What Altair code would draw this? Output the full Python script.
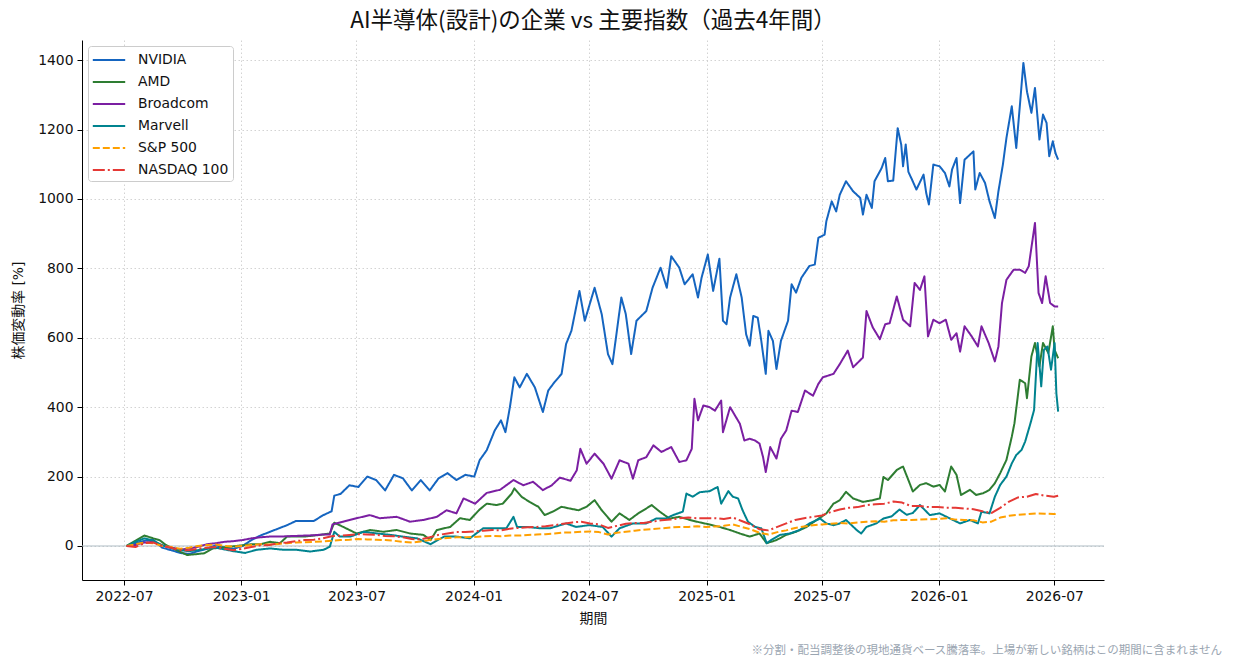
import altair as alt
import numpy as np
import pandas as pd

FONT = "DejaVu Sans, Noto Sans CJK JP"
CJK = "Noto Sans CJK JP"

series_names = ["NVIDIA", "AMD", "Broadcom", "Marvell", "S&P 500", "NASDAQ 100"]
series_colors = ["#1565C0", "#2E7D32", "#7B1FA2", "#00838F", "#FFA000", "#E53935"]
series_dashes = [[1, 0], [1, 0], [1, 0], [1, 0], [7, 3], [12, 3, 2, 3]]

# time positions are in fortnights (14-day steps) after the first trading day
origin_date = "2022-07-05"

nvidia_t = [0, 1, 2, 3, 4, 5, 6, 7, 8, 9,
            10, 11, 12, 13, 14, 15, 16, 17, 18, 19,
            20, 21, 22, 23, 23.3, 24, 25, 26, 27, 28,
            29, 30, 31, 32, 33, 34, 35, 36, 37, 38,
            39, 39.6, 40.4, 41.3, 42, 42.5, 43, 43.5, 44.1, 44.9,
            45.8, 46.7, 47.3, 48, 48.8, 49.3, 49.9, 50.8, 51.4, 52.5,
            53.3, 54, 54.5, 55.5, 56, 56.6, 57.2, 58.3, 59, 59.9,
            60.6, 61.1, 62, 62.6, 63.5, 64.1, 64.5, 65.2, 65.8, 66.5,
            66.9, 67.3, 67.7, 68.4, 69, 69.5, 69.9, 70.3, 70.8, 71.2,
            71.7, 72, 72.5, 72.9, 73.4, 74.2, 74.6, 75.1, 75.7, 76.6,
            77.2, 77.6, 78.3, 78.5, 79.1, 79.6, 80, 80.7, 81.5, 82.3,
            82.6, 83, 83.6, 83.9, 84.7, 85.1, 85.4, 86, 86.5, 86.9,
            87.1, 87.4, 87.7, 88.1, 88.6, 89.4, 89.7, 90, 90.5, 91.2,
            91.8, 92.3, 92.6, 93.1, 93.5, 94, 95, 95.2, 95.7, 96.3,
            96.8, 97.4, 97.8, 98.3, 98.7, 99.3, 99.8, 100.2, 100.6, 101,
            101.5, 101.9, 102.4, 102.8, 103.2, 103.5, 103.9, 104.2, 104.5]
nvidia_v = [0, 8, 15, 18, -5, -12, -20, -23, -15, -8,
            2, -5, -8, 0, 17, 30, 40, 50, 60, 72,
            72, 72, 88, 100, 145, 150, 175, 170, 200, 190,
            160, 205, 195, 160, 190, 160, 195, 210, 190, 205,
            200, 247, 276, 333, 362, 328, 400, 486, 457, 496,
            457, 386, 448, 472, 496, 582, 620, 735, 649, 744,
            668, 553, 524, 716, 668, 553, 649, 677, 744, 802,
            744, 835, 802, 754, 783, 716, 773, 840, 735, 828,
            649, 639, 716, 783, 716, 610, 577, 663, 658, 591,
            496, 620, 591, 510, 591, 649, 754, 730, 773, 807,
            811, 888, 897, 936, 993, 964, 1012, 1051, 1022, 1003,
            955, 1012, 974, 1051, 1089, 1118, 1051, 1053, 1204, 1156,
            1094, 1157, 1078, 1056, 1027, 1070, 1017, 984, 1099, 1094,
            1075, 1036, 1085, 1118, 988, 1113, 1137, 1027, 1075, 1046,
            993, 945, 1022, 1099, 1176, 1267, 1147, 1267, 1392, 1310,
            1248, 1320, 1171, 1243, 1219, 1123, 1166, 1132, 1113]

amd_t = [0, 1, 2, 3, 3.7, 4.4, 5.6, 6.8, 8, 8.7,
         9.7, 11.6, 13, 14, 15, 16.1, 17.2, 18, 19.9, 21.7,
         22.8, 23.3, 24.3, 25.8, 27.3, 28.8, 30.3, 31.8, 33.3, 34.1,
         34.8, 36.3, 37.4, 38.5, 39.6, 40.4, 41.5, 42.2, 43.2, 43.5,
         44.3, 45.2, 46.2, 46.9, 47.8, 48.8, 49.7, 50.7, 51.6, 52.5,
         53.3, 54.4, 55.3, 56.4, 57.4, 58.3, 58.9, 59.8, 60.9, 62,
         63.2, 64.3, 65.4, 66.5, 67.7, 68.8, 69.9, 71, 71.8, 72.9,
         74, 75.1, 76.3, 77.4, 78.5, 79.3, 80, 80.7, 81.5, 82.6,
         83.7, 84.5, 84.9, 85.4, 86.4, 87.1, 87.7, 88.2, 89, 89.7,
         90.5, 91.2, 91.8, 92.5, 93.1, 93.6, 94.6, 95.3, 96.1, 96.8,
         97.4, 98, 98.7, 99.3, 99.6, 100.2, 100.8, 101, 101.5, 101.9,
         102.4, 102.8, 103.4, 103.9, 104.1, 104.5]
amd_v = [0, 15, 30, 22, 17, 3, -12, -26, -23, -21,
         -7, -2, 2, 5, 5, 12, 8, 27, 27, 32,
         36, 67, 55, 36, 46, 41, 46, 36, 32, 17,
         46, 55, 80, 75, 105, 122, 118, 122, 151, 166,
         142, 127, 113, 89, 99, 113, 108, 103, 113, 132,
         103, 70, 94, 75, 94, 108, 118, 99, 79, 84,
         75, 68, 62, 55, 46, 36, 27, 36, 8, 17,
         32, 41, 55, 75, 94, 122, 132, 156, 137, 127,
         132, 137, 199, 190, 219, 229, 190, 157, 176, 181,
         171, 176, 157, 229, 205, 147, 162, 147, 152, 162,
         181, 210, 248, 315, 354, 479, 469, 426, 546, 585,
         517, 585, 556, 633, 565, 541]

broadcom_t = [0, 1, 2, 3, 4, 5, 6, 7, 8, 9,
              10, 11, 12, 13, 14, 15, 16, 17, 18, 19,
              20, 21, 22, 22.8, 23.1, 24.3, 25.8, 27.3, 28.4, 30.3,
              31.8, 33.3, 34.8, 35.9, 37, 37.8, 39.1, 40.4, 41.9, 43.4,
              44.5, 45.6, 46.7, 47.7, 48.6, 49.8, 50.5, 50.9, 51.6, 52.5,
              53.5, 54.4, 55.3, 56.3, 56.8, 57.4, 58.3, 59.1, 60, 61.1,
              62, 62.8, 63.4, 63.7, 64.1, 64.7, 65.4, 66, 66.7, 66.9,
              67.7, 68.8, 69.3, 69.9, 70.5, 71, 71.4, 71.7, 72.2, 72.9,
              73.4, 74, 74.6, 75.3, 76.1, 77, 77.6, 78.1, 79.3, 80,
              80.9, 81.5, 82.6, 83, 83.7, 84.5, 85.1, 85.6, 86.4, 87.1,
              87.9, 88.4, 89, 89.5, 89.9, 90.5, 91.2, 91.9, 92.5, 93.1,
              93.5, 94, 94.8, 95.5, 95.9, 96.7, 97.4, 97.8, 98.2, 98.7,
              99.5, 100.2, 100.8, 101.2, 101.9, 102.3, 102.7, 103.1, 103.6, 104.1,
              104.5]
broadcom_v = [0, 3, 10, 12, 2, -5, -10, -8, -2, 5,
              8, 12, 14, 17, 22, 25, 27, 27, 28, 29,
              30, 31, 33, 33, 62, 70, 80, 89, 80, 84,
              70, 75, 84, 103, 94, 137, 122, 153, 162, 190,
              175, 185, 161, 175, 197, 188, 218, 280, 237, 266,
              237, 194, 247, 237, 194, 247, 256, 290, 271, 285,
              242, 247, 280, 424, 362, 405, 400, 390, 419, 328,
              400, 352, 304, 309, 304, 295, 256, 213, 285, 252,
              309, 333, 390, 386, 448, 433, 467, 486, 496, 524,
              563, 515, 543, 677, 630, 596, 639, 642, 719, 652,
              633, 758, 738, 777, 604, 652, 642, 652, 594, 613,
              560, 633, 604, 575, 633, 585, 532, 575, 700, 767,
              796, 796, 787, 806, 931, 729, 700, 777, 700, 690,
              690]

marvell_t = [0, 1, 2, 3, 4, 5, 6, 7, 8, 9,
             10, 11, 12, 13.3, 14.6, 16.1, 17.6, 19.1, 20.6, 22.1,
             22.8, 23.3, 23.9, 25.1, 26.6, 28.1, 29.6, 31, 32.6, 34.1,
             35.6, 37, 38.5, 40, 41.5, 42.6, 43.4, 43.8, 44.9, 46.4,
             47.5, 49.3, 50.4, 51.9, 53.4, 54.4, 55.3, 56.8, 58.3, 59.4,
             60.5, 61.3, 62.4, 62.8, 63.5, 64.3, 65.4, 66.3, 66.7, 67.5,
             68, 68.6, 69.1, 69.7, 70.5, 71.2, 71.8, 72.3, 73.3, 74.4,
             75.5, 76.6, 77.8, 78.5, 79.3, 80, 80.7, 81.9, 82.4, 83,
             84.1, 84.9, 85.8, 86.7, 87.5, 88.2, 89, 90.1, 91.2, 92.3,
             93.5, 94.6, 95.5, 95.9, 96.8, 97.4, 98, 98.7, 99.3, 99.8,
             100.4, 100.8, 101.4, 101.8, 102.2, 102.6, 102.9, 103.3, 103.7, 104.1,
             104.3, 104.5]
marvell_v = [0, 12, 22, 15, 2, -5, -12, -15, -12, -8,
             -5, -10, -15, -20, -11, -7, -11, -11, -16, -11,
             -2, 41, 27, 27, 41, 36, 32, 27, 22, 5,
             27, 27, 22, 51, 51, 51, 84, 55, 55, 51,
             51, 65, 55, 60, 55, 27, 51, 65, 65, 79,
             79, 89, 99, 151, 142, 155, 158, 170, 122, 158,
             142, 137, 103, 70, 55, 51, 8, 17, 32, 36,
             46, 65, 79, 65, 60, 65, 75, 46, 36, 55,
             65, 79, 85, 105, 90, 95, 118, 89, 94, 80,
             65, 75, 65, 99, 94, 142, 176, 200, 238, 262,
             277, 301, 354, 392, 585, 460, 565, 575, 508, 585,
             440, 387]

index_t = list(range(105)) + [104.5]

sp500_v = [0, 5, 10, 8, 0, -3, -8, -5, 0, 3, 4, 0, -2, 0,
           3, 5, 4, 6, 8, 10, 11, 12, 13, 15, 17, 18, 20, 19, 18, 17, 15, 12, 10, 13, 17, 20, 23, 25,
           25, 26, 28, 29, 28, 30,
           30, 32, 33, 34, 36, 39, 39, 41, 42, 40, 33, 38, 41, 44, 47, 49, 51, 53, 55, 55, 57, 55, 56, 58,
           62, 55, 48, 38, 33, 40, 45, 52, 56, 60, 62, 64, 66, 65, 68, 70, 71, 70, 74, 75, 75,
           76, 77, 78, 80, 76, 75, 74, 68, 70, 82, 87, 90, 92, 94, 93, 92, 93]

nasdaq100_v = [0, -3, 8, 10, 0, -5, -12, -12, -8, -5, -3, -8, -12, -8,
               -3, 2, 3, 8, 10, 14, 17, 18, 22, 28, 30, 32, 34, 33, 32, 29, 28, 25, 20, 19, 25, 32, 36,
               40, 40, 42, 44, 46, 45, 50,
               52, 54, 55, 57, 60, 64, 68, 70, 65, 62, 52, 58, 64, 66, 66, 70, 74, 76, 80, 82, 80, 80,
               80, 78,
               82, 72, 62, 48, 45, 55, 65, 75, 80, 84, 88, 98, 105, 110, 112, 118, 120, 122, 128, 125, 115,
               115, 112, 112, 110, 110, 108, 106, 100, 95, 110, 128, 140, 142, 150, 145, 142, 145]

x_ticks = ["2022-07", "2023-01", "2023-07", "2024-01", "2024-07", "2025-01", "2025-07", "2026-01", "2026-07"]
y_ticks = [0, 200, 400, 600, 800, 1000, 1200, 1400]

title_text = "AI半導体(設計)の企業 vs 主要指数（過去4年間）"
note_text = "※分割・配当調整後の現地通貨ベース騰落率。上場が新しい銘柄はこの期間に含まれません"

series_data = [
    (nvidia_t, nvidia_v), (amd_t, amd_v), (broadcom_t, broadcom_v),
    (marvell_t, marvell_v), (index_t, sp500_v), (index_t, nasdaq100_v),
]
origin = pd.Timestamp(origin_date)
frames = []
for k, (name, (ts, vs)) in enumerate(zip(series_names, series_data)):
    assert len(ts) == len(vs), name
    dates = origin + pd.to_timedelta(np.array(ts, dtype=float) * 14, unit="D")
    frames.append(pd.DataFrame({"date": dates, "series": name, "value": vs, "k": k}))
df = pd.concat(frames, ignore_index=True)

def dt(s):
    y, m = s.split("-")
    return alt.DateTime(year=int(y), month=int(m), date=1)

legend = alt.Legend(
    title=None, orient="none", legendX=6, legendY=6,
    symbolType="M-1.8,0H1.8", symbolSize=324, symbolStrokeWidth=2, symbolOffset=7,
    labelFont=FONT, labelFontSize=13.9, labelColor="#111111", labelOffset=19,
    fillColor="white", strokeColor="#cccccc", cornerRadius=3, padding=4,
    rowPadding=5,
)

axis_common = dict(
    labelFontSize=13.9, titleFontSize=13.9, gridDash=[1.5, 2.5], gridColor="#c8c8c8",
    gridWidth=0.8, domainColor="black", tickColor="black", tickSize=5, labelPadding=4,
    labelColor="#111111", titleColor="#111111", labelFont=FONT, titleFont=FONT,
    titleFontWeight="normal",
)

y_scale = alt.Scale(domain=[-98, 1458], nice=False, zero=False)

x_enc = alt.X(
    "date:T",
    scale=alt.Scale(domain=[alt.DateTime(year=2022, month=4, date=26),
                            alt.DateTime(year=2026, month=9, date=17)]),
    axis=alt.Axis(values=[dt(t) for t in x_ticks], format="%Y-%m", title="期間",
                  titlePadding=9, **axis_common),
)
y_enc = alt.Y(
    "value:Q", scale=y_scale,
    axis=alt.Axis(values=y_ticks, format="d", title="株価変動率 [%]", titlePadding=12,
                  **axis_common),
)

zero_rule = alt.Chart(pd.DataFrame({"value": [0]})).mark_rule(
    color="#B0BEC5", strokeWidth=1
).encode(y=alt.Y("value:Q", scale=y_scale))

lines = alt.Chart(df).mark_line(strokeWidth=2, strokeJoin="round").encode(
    x=x_enc,
    y=y_enc,
    color=alt.Color("series:N", scale=alt.Scale(domain=series_names, range=series_colors),
                    legend=legend),
    strokeDash=alt.StrokeDash("series:N", scale=alt.Scale(domain=series_names, range=series_dashes),
                              legend=legend),
)

note = alt.Chart(pd.DataFrame({"t": [note_text]})).mark_text(
    align="right", baseline="middle", fontSize=11.5, color="#9aa5b1", font=CJK
).encode(text="t:N", x=alt.value(1140), y=alt.value(611))

chart = alt.layer(zero_rule, lines, note).properties(
    width=1022, height=540,
    title=alt.TitleParams(title_text, font=CJK, fontSize=22.5, fontWeight="normal",
                          anchor="middle", offset=8, color="#111111"),
    autosize=alt.AutoSizeParams(type="none"),
    padding={"left": 82, "top": 40, "right": 130, "bottom": 88},
    background="white",
).configure_view(stroke=None)

chart.save("out.html", embed_options={"renderer": "svg", "actions": False})
